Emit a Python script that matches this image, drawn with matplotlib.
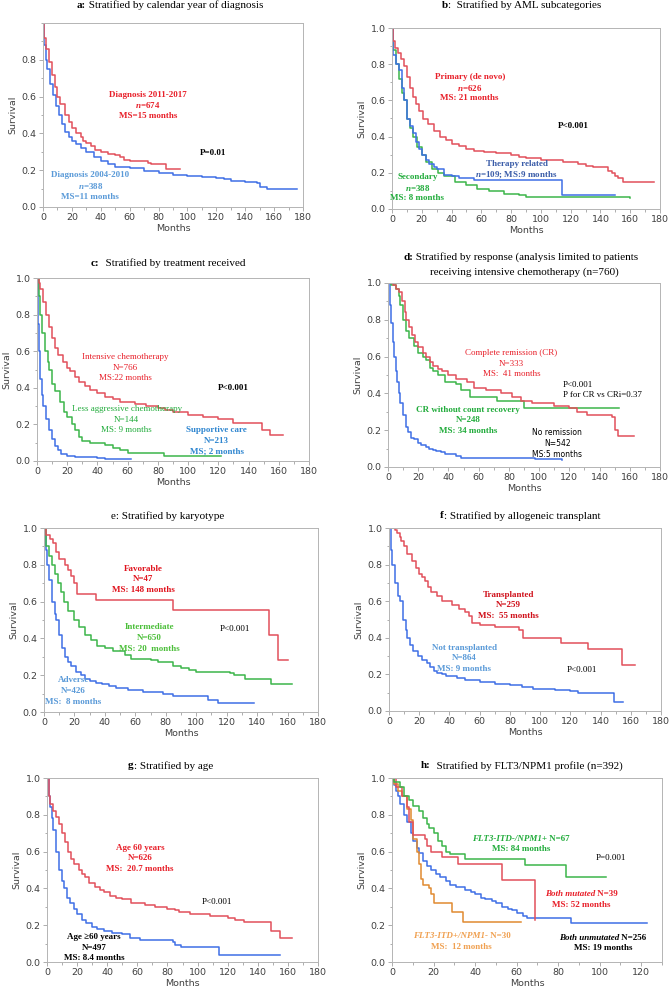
import matplotlib
matplotlib.use("Agg")
import matplotlib.pyplot as plt
from matplotlib.ticker import MultipleLocator

plt.rcParams['mathtext.fontset'] = 'custom'
plt.rcParams['mathtext.rm'] = 'Liberation Serif'
plt.rcParams['mathtext.bf'] = 'Liberation Serif:bold'
plt.rcParams['mathtext.it'] = 'Liberation Serif:italic'
plt.rcParams['mathtext.bfit'] = 'Liberation Serif:italic:bold'

RED = '#e2505b'
BLUE = '#3f6fe6'
GREEN = '#3cb54a'
ORANGE = '#e08a30'
TRED = '#e8202a'
TGREEN = '#22ac3c'

# ---- data (months, survival) ----
# a: calendar year
a_red_t = [0, 1, 2, 4, 6, 8, 10, 12, 15, 18, 20, 23, 26, 28, 30, 33, 36, 40, 45, 50, 53, 56, 60, 70, 73, 75, 84, 85, 95]
a_red_s = [1.0, 0.92, 0.86, 0.79, 0.72, 0.65, 0.60, 0.56, 0.50, 0.46, 0.43, 0.40, 0.38, 0.36, 0.35, 0.33, 0.31, 0.30, 0.29, 0.28, 0.27, 0.255, 0.25, 0.25, 0.24, 0.235, 0.235, 0.205, 0.205]
a_blue_t = [0, 1, 2, 3, 5, 7, 9, 11, 13, 15, 18, 20, 23, 26, 30, 35, 40, 45, 50, 55, 60, 70, 80, 90, 100, 110, 120, 125, 130, 140, 148, 150, 155, 176]
a_blue_s = [1.0, 0.88, 0.80, 0.75, 0.67, 0.61, 0.55, 0.50, 0.45, 0.41, 0.38, 0.36, 0.34, 0.32, 0.30, 0.27, 0.25, 0.235, 0.22, 0.215, 0.21, 0.195, 0.185, 0.175, 0.17, 0.165, 0.16, 0.15, 0.14, 0.135, 0.13, 0.11, 0.10, 0.10]

# b: AML subcategories
b_red_t = [0, 1, 2, 4, 6, 8, 10, 12, 14, 16, 18, 21, 24, 28, 32, 36, 40, 45, 50, 55, 62, 70, 80, 85, 90, 100, 110, 115, 125, 130, 135, 145, 148, 150, 152, 155, 176]
b_red_s = [1.0, 0.93, 0.89, 0.86, 0.83, 0.79, 0.73, 0.67, 0.62, 0.58, 0.54, 0.50, 0.47, 0.43, 0.40, 0.38, 0.36, 0.35, 0.33, 0.32, 0.315, 0.31, 0.30, 0.29, 0.28, 0.27, 0.27, 0.26, 0.25, 0.24, 0.23, 0.21, 0.20, 0.18, 0.17, 0.15, 0.15]
b_blue_t = [0, 1, 3, 5, 7, 8, 10, 12, 14, 16, 18, 20, 23, 25, 28, 30, 35, 40, 45, 55, 114, 150]
b_blue_s = [1.0, 0.85, 0.80, 0.77, 0.67, 0.60, 0.50, 0.46, 0.42, 0.37, 0.33, 0.30, 0.27, 0.25, 0.23, 0.22, 0.19, 0.18, 0.17, 0.16, 0.08, 0.08]
b_green_t = [0, 1, 3, 5, 7, 8, 10, 12, 14, 17, 20, 23, 27, 31, 35, 42, 50, 57, 65, 75, 85, 90, 160]
b_green_s = [1.0, 0.88, 0.80, 0.72, 0.64, 0.60, 0.50, 0.45, 0.40, 0.34, 0.30, 0.26, 0.22, 0.20, 0.18, 0.15, 0.13, 0.11, 0.10, 0.085, 0.075, 0.065, 0.06]

# c: treatment received
c_red_t = [0, 1, 2, 4, 6, 8, 10, 12, 14, 17, 20, 22, 25, 28, 32, 35, 40, 45, 50, 55, 65, 72, 80, 85, 90, 100, 110, 120, 130, 148, 149, 154, 163]
c_red_s = [1.0, 0.97, 0.94, 0.87, 0.80, 0.73, 0.67, 0.62, 0.58, 0.54, 0.51, 0.49, 0.46, 0.43, 0.41, 0.39, 0.37, 0.35, 0.34, 0.32, 0.31, 0.30, 0.29, 0.28, 0.27, 0.25, 0.24, 0.23, 0.21, 0.21, 0.17, 0.14, 0.14]
c_green_t = [0, 1, 2, 3, 5, 7, 8, 10, 12, 15, 18, 20, 23, 25, 28, 30, 35, 45, 50, 55, 60, 84, 122]
c_green_s = [1.0, 0.90, 0.80, 0.70, 0.60, 0.54, 0.50, 0.42, 0.38, 0.32, 0.27, 0.24, 0.20, 0.17, 0.13, 0.11, 0.10, 0.09, 0.07, 0.06, 0.045, 0.025, 0.025]
c_blue_t = [0, 0.5, 1, 2, 3, 4, 6, 8, 10, 12, 14, 16, 20, 25, 40, 45, 62]
c_blue_s = [1.0, 0.75, 0.60, 0.45, 0.36, 0.30, 0.23, 0.17, 0.12, 0.08, 0.06, 0.04, 0.03, 0.02, 0.015, 0.01, 0.01]

# d: response to intensive chemotherapy
d_red_t = [0, 3, 5, 7, 9, 11, 12, 14, 16, 18, 20, 23, 25, 28, 30, 33, 36, 40, 45, 52, 57, 65, 75, 82, 88, 95, 110, 120, 125, 132, 148, 150, 152, 163]
d_red_s = [1.0, 0.99, 0.97, 0.95, 0.90, 0.84, 0.80, 0.76, 0.72, 0.68, 0.65, 0.62, 0.60, 0.57, 0.55, 0.53, 0.52, 0.50, 0.48, 0.46, 0.43, 0.42, 0.40, 0.38, 0.36, 0.35, 0.33, 0.32, 0.30, 0.28, 0.27, 0.20, 0.17, 0.17]
d_green_t = [0, 2, 5, 7, 8, 10, 12, 14, 17, 20, 23, 25, 28, 30, 33, 38, 45, 48, 54, 70, 72, 89, 90, 153]
d_green_s = [1.0, 0.99, 0.97, 0.93, 0.88, 0.80, 0.74, 0.70, 0.66, 0.62, 0.60, 0.58, 0.54, 0.52, 0.50, 0.46, 0.45, 0.42, 0.38, 0.38, 0.36, 0.36, 0.32, 0.32]
d_blue_t = [0, 1, 2, 3, 4, 5, 6, 7, 8, 10, 12, 13, 15, 17, 20, 22, 25, 27, 30, 32, 35, 38, 45, 48, 97, 115]
d_blue_s = [1.0, 0.88, 0.78, 0.68, 0.60, 0.52, 0.46, 0.40, 0.35, 0.28, 0.22, 0.19, 0.16, 0.15, 0.13, 0.12, 0.11, 0.10, 0.09, 0.085, 0.08, 0.07, 0.06, 0.05, 0.045, 0.04]

# e: karyotype
e_red_t = [0, 1, 4, 6, 8, 10, 14, 16, 18, 20, 22, 34, 85, 148, 154, 160]
e_red_s = [1.0, 0.96, 0.94, 0.92, 0.87, 0.83, 0.80, 0.77, 0.74, 0.70, 0.64, 0.61, 0.555, 0.42, 0.28, 0.28]
e_green_t = [0, 1, 3, 5, 7, 9, 11, 13, 16, 20, 23, 27, 31, 35, 40, 45, 53, 57, 70, 75, 85, 90, 95, 100, 118, 122, 125, 132, 149, 163]
e_green_s = [1.0, 0.90, 0.85, 0.80, 0.75, 0.70, 0.65, 0.60, 0.55, 0.50, 0.46, 0.42, 0.39, 0.36, 0.35, 0.33, 0.31, 0.29, 0.28, 0.27, 0.25, 0.24, 0.23, 0.22, 0.22, 0.21, 0.20, 0.18, 0.15, 0.15]
e_blue_t = [0, 1, 2, 3, 5, 7, 8, 10, 12, 14, 16, 18, 21, 24, 27, 30, 34, 38, 43, 47, 55, 65, 78, 85, 107, 108, 114, 138]
e_blue_s = [1.0, 0.88, 0.80, 0.72, 0.60, 0.53, 0.50, 0.42, 0.35, 0.30, 0.27, 0.25, 0.22, 0.20, 0.18, 0.17, 0.16, 0.15, 0.14, 0.13, 0.12, 0.11, 0.10, 0.085, 0.085, 0.065, 0.05, 0.05]

# f: allogeneic transplant
f_red_t = [0, 4, 5, 7, 8, 10, 12, 15, 18, 20, 22, 24, 26, 28, 32, 35, 42, 46, 50, 53, 55, 60, 70, 86, 89, 114, 132, 154, 163]
f_red_s = [1.0, 0.99, 0.97, 0.95, 0.93, 0.90, 0.86, 0.82, 0.78, 0.75, 0.73, 0.71, 0.68, 0.65, 0.63, 0.60, 0.58, 0.56, 0.54, 0.52, 0.48, 0.47, 0.46, 0.44, 0.40, 0.37, 0.34, 0.25, 0.25]
f_blue_t = [0, 1, 2, 4, 6, 7, 9, 11, 12, 14, 16, 19, 22, 25, 27, 30, 32, 35, 38, 45, 50, 60, 70, 80, 88, 95, 110, 120, 125, 148, 149, 155]
f_blue_s = [1.0, 0.88, 0.80, 0.70, 0.63, 0.60, 0.50, 0.44, 0.40, 0.36, 0.33, 0.30, 0.28, 0.26, 0.24, 0.22, 0.21, 0.20, 0.19, 0.18, 0.17, 0.16, 0.15, 0.14, 0.13, 0.12, 0.115, 0.11, 0.10, 0.10, 0.05, 0.05]

# g: age
g_red_t = [0, 1, 2, 4, 6, 8, 10, 12, 14, 16, 18, 21, 23, 25, 28, 32, 35, 38, 42, 46, 50, 56, 65, 72, 80, 85, 88, 95, 108, 120, 125, 131, 149, 150, 155, 163]
g_red_s = [1.0, 0.90, 0.86, 0.82, 0.79, 0.75, 0.70, 0.65, 0.60, 0.56, 0.53, 0.50, 0.48, 0.46, 0.43, 0.41, 0.39, 0.38, 0.36, 0.35, 0.34, 0.32, 0.31, 0.30, 0.29, 0.28, 0.27, 0.26, 0.25, 0.24, 0.23, 0.22, 0.17, 0.17, 0.13, 0.13]
g_blue_t = [0, 1, 2, 3, 4, 6, 8, 10, 11, 13, 15, 18, 20, 23, 26, 30, 33, 38, 43, 50, 55, 62, 84, 85, 89, 114, 155]
g_blue_s = [1.0, 0.90, 0.84, 0.78, 0.72, 0.60, 0.50, 0.44, 0.40, 0.35, 0.32, 0.29, 0.26, 0.23, 0.21, 0.19, 0.18, 0.17, 0.16, 0.15, 0.13, 0.12, 0.11, 0.09, 0.08, 0.04, 0.04]

# h: FLT3/NPM1 profile
h_green_t = [0, 1, 4, 6, 8, 10, 13, 15, 17, 18, 20, 22, 24, 26, 28, 35, 64, 84, 103]
h_green_s = [1.0, 0.98, 0.95, 0.90, 0.88, 0.85, 0.82, 0.78, 0.75, 0.73, 0.70, 0.66, 0.63, 0.60, 0.585, 0.56, 0.525, 0.46, 0.46]
h_red_t = [0, 2, 5, 7, 8, 10, 16, 17, 19, 24, 32, 53, 69]
h_red_s = [1.0, 0.95, 0.90, 0.84, 0.76, 0.69, 0.67, 0.63, 0.60, 0.57, 0.53, 0.445, 0.23]
h_blue_t = [0, 1, 2, 3, 4, 6, 7, 9, 10, 12, 13, 15, 17, 19, 21, 23, 26, 28, 31, 35, 38, 40, 43, 45, 48, 50, 53, 56, 58, 60, 63, 65, 85, 86, 123]
h_blue_s = [1.0, 0.96, 0.93, 0.90, 0.86, 0.80, 0.76, 0.70, 0.66, 0.62, 0.59, 0.55, 0.52, 0.50, 0.48, 0.46, 0.44, 0.42, 0.41, 0.39, 0.38, 0.37, 0.35, 0.34, 0.33, 0.32, 0.30, 0.29, 0.28, 0.265, 0.25, 0.24, 0.24, 0.21, 0.21]
h_orange_t = [0, 1, 3, 5, 7, 9, 10, 12, 13, 14, 15, 18, 19, 20, 29, 34, 62]
h_orange_s = [1.0, 0.97, 0.93, 0.90, 0.83, 0.77, 0.67, 0.60, 0.53, 0.45, 0.42, 0.40, 0.37, 0.32, 0.27, 0.22, 0.22]

# title: (bold prefix, rest)
titles = [
    ('a:', ' Stratified by calendar year of diagnosis'),
    ('b', ':  Stratified by AML subcategories'),
    ('c:', '  Stratified by treatment received'),
    ('d:', ' Stratified by response (analysis limited to patients'),
    ('', 'e: Stratified by karyotype'),
    ('f', ': Stratified by allogeneic transplant'),
    ('g', ': Stratified by age'),
    ('h:', '  Stratified by FLT3/NPM1 profile (n=392)'),
]
# title left edge and vertical centre in pixels
title_x = [77, 442, 91, 403, 111, 440, 128, 421]
title_y = [5, 5, 263, 257, 516, 516, 766, 766]

W, H = 669, 989
fig = plt.figure(figsize=(W / 100, H / 100), dpi=100)

# axes boxes in pixels: left, right, top, bottom
boxes = [
    (43, 303, 23, 207), (392, 660, 28, 209),
    (37, 309, 278, 461), (388, 660, 283, 467),
    (44, 318, 528, 712), (389, 661, 528, 711),
    (47, 318, 778, 962), (392, 662, 778, 962),
]

TFS = 8


def make_ax(i, xmax=180, xstep=20, show_top=True):
    l, r, t, b = boxes[i]
    ax = fig.add_axes([l / W, 1 - b / H, (r - l) / W, (b - t) / H])
    ax.set_xlim(0, xmax)
    ax.set_ylim(0, 1.0)
    ax.xaxis.set_major_locator(MultipleLocator(xstep))
    ax.xaxis.set_minor_locator(MultipleLocator(xstep / 2))
    ax.yaxis.set_major_locator(MultipleLocator(0.2))
    ax.yaxis.set_minor_locator(MultipleLocator(0.1))
    if not show_top:
        ax.set_yticks([0, 0.2, 0.4, 0.6, 0.8])
    ax.tick_params(which='both', direction='out', colors='#a0a0a0', labelcolor='#404040',
                   labelsize=6.8, width=0.6)
    ax.tick_params(which='major', length=3, pad=1.5)
    ax.tick_params(which='minor', length=1.8)
    ax.yaxis.set_major_formatter(lambda v, p: f'{v:.1f}')
    for s in ax.spines.values():
        s.set_color('#b4b4b4')
        s.set_linewidth(0.7)
    ax.set_xlabel('Months', fontsize=6.8, color='#404040', labelpad=1)
    ax.set_ylabel('Survival', fontsize=6.8, color='#404040', labelpad=3)

    # title: bold panel letter followed by plain text
    pre, rest = titles[i]
    x0, y0 = title_x[i] / W, 1 - title_y[i] / H
    t1 = fig.text(x0, y0, pre, ha='left', va='center', fontsize=TFS,
                  fontweight='bold', family='Liberation Serif')
    fig.add_artist(plt.Annotation(rest, xy=(1, 0.5), xycoords=t1, ha='left', va='center',
                                  fontsize=TFS, family='Liberation Serif'))
    return ax


def km(ax, t, s, color):
    ax.step(t, s, where='post', color=color, lw=1.1)


def lab(ax, x, y, lines, color, weight='bold', dy=0.058, family='Liberation Serif', fs=6.5):
    for k, line in enumerate(lines):
        ax.text(x, y - k * dy, line, ha='center', va='center', color=color,
                fontsize=fs, fontweight=weight, family=family)


def two_part(ax, x, y, ital, rest, color):
    t1 = ax.text(x, y, ital, ha='left', va='center', color=color, fontsize=6.5,
                 fontweight='bold', fontstyle='italic', family='Liberation Serif')
    ax.annotate(rest, xy=(1, 0.5), xycoords=t1, ha='left', va='center', color=color,
                fontsize=6.5, fontweight='bold', family='Liberation Serif')


# a
ax = make_ax(0, show_top=False)
km(ax, a_blue_t, a_blue_s, BLUE)
km(ax, a_red_t, a_red_s, RED)
lab(ax, 72.7, 0.61, ['Diagnosis 2011-2017', r'$\mathbfit{n}$=674', 'MS=15 months'], TRED)
lab(ax, 32.8, 0.173, ['Diagnosis 2004-2010', r'$\mathbfit{n}$=388', 'MS=11 months'], '#5a9ad8')
lab(ax, 117.7, 0.295, ['P=0.01'], 'black')

# b
ax = make_ax(1)
km(ax, b_green_t, b_green_s, GREEN)
km(ax, b_blue_t, b_blue_s, BLUE)
km(ax, b_red_t, b_red_s, RED)
lab(ax, 52.2, 0.727, ['Primary (de novo)', r'$\mathbfit{n}$=626', 'MS: 21 months'], TRED)
lab(ax, 83.6, 0.25, ['Therapy related', r'$\mathbfit{n}$=109; MS:9 months'], '#3a5ca8')
lab(ax, 17, 0.175, ['Secondary', r'$\mathbfit{n}$=388', 'MS: 8 months'], TGREEN)
lab(ax, 122, 0.457, ['P<0.001'], 'black')

# c
ax = make_ax(2)
km(ax, c_blue_t, c_blue_s, BLUE)
km(ax, c_green_t, c_green_s, GREEN)
km(ax, c_red_t, c_red_s, RED)
lab(ax, 58.3, 0.567, ['Intensive chemotherapy', 'N=766', 'MS:22 months'], TRED, weight='normal')
lab(ax, 59.4, 0.283, ['Less aggressive chemotherapy', 'N=144', 'MS: 9 months'], TGREEN, weight='normal')
lab(ax, 119, 0.168, ['Supportive care', 'N=213', 'MS; 2 months'], '#2f86d0')
lab(ax, 129.8, 0.397, ['P<0.001'], 'black')

# d
ax = make_ax(3)
l, r = boxes[3][0], boxes[3][1]
fig.text((l + r) / 2 / W, 1 - 272 / H, 'receiving intensive chemotherapy (n=760)', ha='center',
         va='center', fontsize=TFS, family='Liberation Serif')
km(ax, d_blue_t, d_blue_s, BLUE)
km(ax, d_green_t, d_green_s, GREEN)
km(ax, d_red_t, d_red_s, RED)
lab(ax, 81.7, 0.62, ['Complete remission (CR)', 'N=333', 'MS:  41 months'], TRED, weight='normal')
lab(ax, 53, 0.312, ['CR without count recovery', 'N=248', 'MS: 34 months'], TGREEN)
lab(ax, 112, 0.185, ['No remission', 'N=542', 'MS:5 months'], 'black', weight='normal', family='DejaVu Sans', fs=5.5)
ax.text(115.5, 0.444, 'P<0.001', ha='left', va='center', fontsize=6.4, family='Liberation Serif')
ax.text(115.5, 0.39, 'P for CR vs CRi=0.37', ha='left', va='center', fontsize=6.4, family='Liberation Serif')

# e
ax = make_ax(4)
km(ax, e_blue_t, e_blue_s, BLUE)
km(ax, e_green_t, e_green_s, GREEN)
km(ax, e_red_t, e_red_s, RED)
lab(ax, 65.2, 0.779, ['Favorable', 'N=47', 'MS: 148 months'], '#e0121c')
lab(ax, 69, 0.46, ['Intermediate', 'N=650', 'MS: 20  months'], '#4cbf3a')
lab(ax, 19.3, 0.172, ['Adverse', 'N=426', 'MS:  8 months'], '#5a9ad8')
lab(ax, 125.4, 0.453, ['P<0.001'], 'black', weight='normal')

# f
ax = make_ax(5)
km(ax, f_blue_t, f_blue_s, BLUE)
km(ax, f_red_t, f_red_s, RED)
lab(ax, 79, 0.636, ['Transplanted', 'N=259', 'MS:  55 months'], '#d0101a')
lab(ax, 49.8, 0.345, ['Not transplanted', 'N=864', 'MS: 9 months'], '#5a9ad8')
lab(ax, 127.5, 0.224, ['P<0.001'], 'black', weight='normal')

# g
ax = make_ax(6)
km(ax, g_blue_t, g_blue_s, BLUE)
km(ax, g_red_t, g_red_s, RED)
lab(ax, 61.8, 0.622, ['Age 60 years', 'N=626', 'MS:  20.7 months'], TRED)
lab(ax, 31.3, 0.136, ['Age \u226560 years', 'N=497', 'MS: 8.4 months'], 'black')
lab(ax, 113, 0.324, ['P<0.001'], 'black', weight='normal')

# h
ax = make_ax(7, xmax=130)
km(ax, h_blue_t, h_blue_s, BLUE)
km(ax, h_orange_t, h_orange_s, ORANGE)
km(ax, h_red_t, h_red_s, RED)
km(ax, h_green_t, h_green_s, GREEN)
two_part(ax, 38.4, 0.671, 'FLT3-ITD-/NPM1+', ' N=67', TGREEN)
lab(ax, 62, 0.613, ['MS: 84 months'], TGREEN)
two_part(ax, 73.6, 0.367, 'Both mutated', ' N=39', TRED)
lab(ax, 91.2, 0.311, ['MS: 52 months'], TRED)
two_part(ax, 10.1, 0.14, 'FLT3-ITD+/NPM1-', ' N=30', '#f0a050')
lab(ax, 33.3, 0.082, ['MS:  12 months'], '#f0a050')
two_part(ax, 80.5, 0.133, 'Both unmutated', ' N=256', 'black')
lab(ax, 101.8, 0.076, ['MS: 19 months'], 'black')
lab(ax, 105.6, 0.564, ['P=0.001'], 'black', weight='normal')

fig.savefig('out.png', dpi=100)
